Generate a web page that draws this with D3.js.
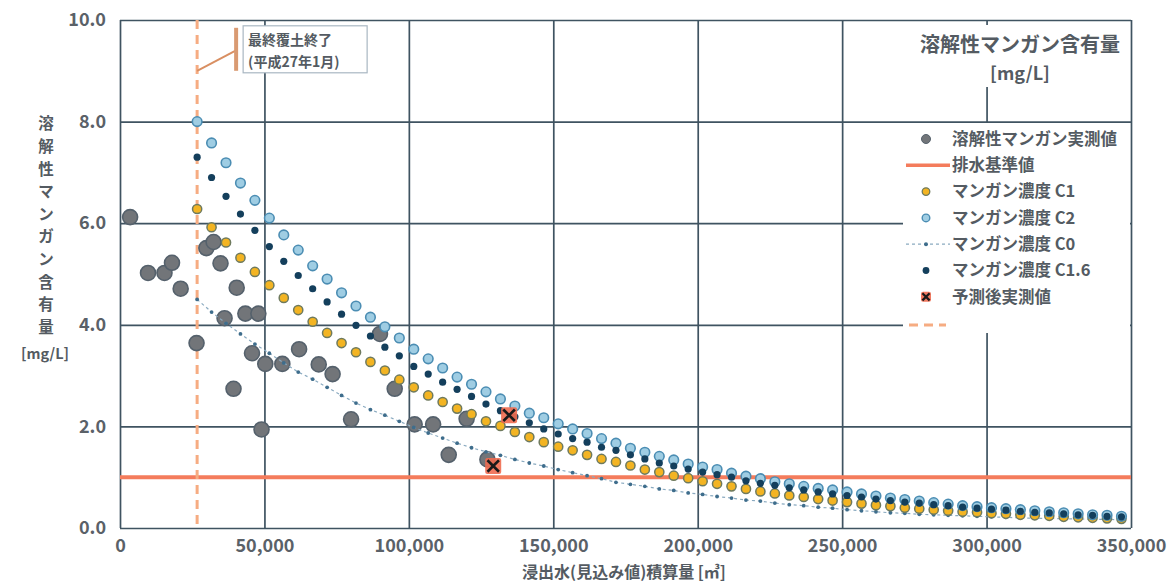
<!DOCTYPE html>
<html><head><meta charset="utf-8">
<script src="https://cdn.jsdelivr.net/npm/d3@7"></script>
<style>
body{margin:0;background:#fff;}
text{font-family:"Noto Sans CJK JP","Noto Sans",sans-serif;}
</style>
</head><body>
<svg id="c" width="1176" height="582"></svg>
<script>
// ---------------- data ----------------
const xTicks = [0, 50000, 100000, 150000, 200000, 250000, 300000, 350000];
const yTicks = [0, 2, 4, 6, 8, 10];
const standardValue = 1.0;          // 排水基準値
const coverEndX = 26700;            // 最終覆土終了
const annotationLines = ["最終覆土終了", "(平成27年1月)"];

const seriesX = [26700,31700,36700,41700,46700,51700,56700,61700,66700,71700,
  76700,81700,86700,91700,96700,101700,106700,111700,116700,121700,
  126700,131700,136700,141700,146700,151700,156700,161700,166700,171700,
  176700,181700,186700,191700,196700,201700,206700,211700,216700,221700,
  226700,231700,236700,241700,246700,251700,256700,261700,266700,271700,
  276700,281700,286700,291700,296700,301700,306700,311700,316700,321700,
  326700,331700,336700,341700,346700];

const c2 = [8.00,7.58,7.19,6.79,6.45,6.10,5.77,5.47,5.16,4.90,
  4.63,4.37,4.15,3.96,3.74,3.52,3.33,3.15,2.97,2.83,
  2.68,2.54,2.40,2.26,2.17,2.05,1.95,1.86,1.76,1.67,
  1.57,1.49,1.41,1.34,1.26,1.20,1.15,1.08,1.02,0.97,
  0.91,0.87,0.82,0.78,0.75,0.71,0.67,0.63,0.59,0.56,
  0.53,0.50,0.47,0.44,0.42,0.40,0.38,0.36,0.34,0.32,
  0.30,0.28,0.26,0.25,0.23];

const c16 = [7.30,6.90,6.53,6.18,5.86,5.54,5.25,4.97,4.71,4.45,
  4.21,3.99,3.78,3.56,3.39,3.18,3.03,2.87,2.73,2.59,
  2.44,2.31,2.19,2.07,1.95,1.85,1.76,1.69,1.59,1.53,
  1.44,1.36,1.28,1.22,1.16,1.10,1.05,1.00,0.93,0.88,
  0.84,0.79,0.75,0.71,0.67,0.64,0.61,0.57,0.54,0.51,
  0.49,0.46,0.44,0.41,0.39,0.37,0.35,0.33,0.31,0.30,
  0.28,0.26,0.25,0.23,0.22];

const c1 = [6.28,5.92,5.62,5.32,5.04,4.78,4.53,4.29,4.06,3.84,
  3.64,3.46,3.27,3.10,2.92,2.77,2.61,2.48,2.35,2.24,
  2.10,2.01,1.89,1.79,1.69,1.60,1.53,1.44,1.36,1.30,
  1.23,1.15,1.10,1.03,0.98,0.92,0.87,0.82,0.77,0.72,
  0.68,0.64,0.61,0.57,0.54,0.51,0.48,0.45,0.43,0.40,
  0.38,0.36,0.34,0.32,0.31,0.29,0.28,0.26,0.25,0.24,
  0.22,0.21,0.20,0.19,0.18];

const c0 = [4.50,4.25,4.03,3.82,3.62,3.44,3.25,3.07,2.93,2.77,
  2.61,2.46,2.33,2.22,2.10,1.98,1.87,1.77,1.67,1.58,
  1.50,1.43,1.35,1.28,1.22,1.15,1.09,1.03,0.97,0.90,
  0.86,0.82,0.77,0.74,0.69,0.66,0.62,0.59,0.55,0.53,
  0.49,0.46,0.44,0.41,0.39,0.36,0.34,0.32,0.30,0.29,
  0.27,0.26,0.25,0.24,0.23,0.22,0.21,0.20,0.19,0.19,
  0.18,0.18,0.17,0.17,0.16];

const measuredX = [3500,9700,15400,18000,21000,26500,29900,32400,34800,36200,
  40400,43400,47900,39300,45700,50300,49000,56200,62000,68800,
  73600,80000,90000,95100,102000,108400,113800,120000,127200];
const measuredY = [6.12,5.02,5.02,5.22,4.71,3.64,5.51,5.63,5.21,4.13,
  4.73,4.22,4.22,2.74,3.44,3.23,1.94,3.23,3.52,3.22,
  3.03,2.14,3.82,2.74,2.04,2.04,1.44,2.15,1.35];

const afterX = [134700, 129200];
const afterY = [2.22, 1.22];

const legendLabels = ["溶解性マンガン実測値","排水基準値","マンガン濃度 C1","マンガン濃度 C2","マンガン濃度 C0","マンガン濃度 C1.6","予測後実測値"];
const titleLines = ["溶解性マンガン含有量","[mg/L]"];
const yTitleChars = ["溶","解","性","マ","ン","ガ","ン","含","有","量"];
const yTitleUnit = "[mg/L]";
const xTitle = "浸出水(見込み値)積算量 [㎥]";

// ---------------- drawing ----------------
const svg = d3.select("#c");
const L = 120, T = 20, R = 1131, B = 528;
const x = d3.scaleLinear().domain([0, 350000]).range([L, R]);
const y = d3.scaleLinear().domain([0, 10]).range([B, T]);

const gridCol = "#3f5361", textCol = "#5a6168";

// gridlines
svg.append("g").attr("transform", `translate(0,${B})`)
  .call(d3.axisBottom(x).tickValues(xTicks).tickSize(-(B - T)).tickFormat(""))
  .call(g => g.select(".domain").remove())
  .call(g => g.selectAll("line").attr("stroke", gridCol).attr("stroke-width", 1.7));
svg.append("g").attr("transform", `translate(${L},0)`)
  .call(d3.axisLeft(y).tickValues(yTicks).tickSize(-(R - L)).tickFormat(""))
  .call(g => g.select(".domain").remove())
  .call(g => g.selectAll("line").attr("stroke", gridCol).attr("stroke-width", 1.7));

// tick labels
svg.append("g").attr("transform", `translate(0,${B})`)
  .call(d3.axisBottom(x).tickValues(xTicks).tickSize(0).tickPadding(11)
        .tickFormat(d => d3.format(",")(d)))
  .call(g => g.select(".domain").remove())
  .call(g => g.selectAll("text").attr("fill", textCol).attr("font-size", 18).attr("font-weight", "bold")
        .style("font-family", "'Noto Sans CJK JP', sans-serif"));
svg.append("g").attr("transform", `translate(${L},0)`)
  .call(d3.axisLeft(y).tickValues(yTicks).tickSize(0).tickPadding(14)
        .tickFormat(d => d.toFixed(1)))
  .call(g => g.select(".domain").remove())
  .call(g => g.selectAll("text").attr("fill", textCol).attr("font-size", 18).attr("font-weight", "bold")
        .style("font-family", "'Noto Sans CJK JP', sans-serif"));

// standard line
svg.append("line").attr("x1", x(0)).attr("x2", x(350000))
  .attr("y1", y(standardValue)).attr("y2", y(standardValue))
  .attr("stroke", "#f47c5c").attr("stroke-width", 4);

// cover-end vertical dashed line
svg.append("line").attr("x1", x(coverEndX)).attr("x2", x(coverEndX))
  .attr("y1", y(10)).attr("y2", y(0))
  .attr("stroke", "#f6ac82").attr("stroke-width", 3).attr("stroke-dasharray", "9,6");

// annotation
const ax = x(coverEndX), ay = y(9.0);
svg.append("line").attr("x1", ax).attr("y1", ay).attr("x2", ax + 38).attr("y2", ay - 20)
  .attr("stroke", "#d98f62").attr("stroke-width", 2);
svg.append("line").attr("x1", ax + 39).attr("x2", ax + 39).attr("y1", ay - 43).attr("y2", ay)
  .attr("stroke", "#d99a72").attr("stroke-width", 4);
svg.append("rect").attr("x", ax + 46).attr("y", ay - 45).attr("width", 124).attr("height", 47)
  .attr("fill", "#fff").attr("stroke", "#a9b7c2").attr("stroke-width", 1.2);
annotationLines.forEach((t, i) => {
  svg.append("text").attr("x", ax + 51).attr("y", ay - 26 + i * 22).text(t)
    .attr("font-size", 14).attr("font-weight", "bold").attr("fill", "#545b62");
});

// measured points
const gMeas = svg.append("g");
measuredX.forEach((mx, i) => {
  gMeas.append("circle").attr("cx", x(mx)).attr("cy", y(measuredY[i])).attr("r", 7.5)
    .attr("fill", "#727579").attr("stroke", "#55616c").attr("stroke-width", 1.6);
});

// C0 dotted line
const c0Line = d3.line().x((d, i) => x(seriesX[i])).y(d => y(d));
svg.append("path").datum(c0).attr("d", c0Line).attr("fill", "none")
  .attr("stroke", "#8aaac0").attr("stroke-width", 1.2).attr("stroke-dasharray", "3,3");
svg.append("g").selectAll("circle").data(c0).join("circle")
  .attr("cx", (d, i) => x(seriesX[i])).attr("cy", d => y(d)).attr("r", 1.9)
  .attr("fill", "#3e6d8c");

// C1
svg.append("g").selectAll("circle").data(c1).join("circle")
  .attr("cx", (d, i) => x(seriesX[i])).attr("cy", d => y(d)).attr("r", 4.6)
  .attr("fill", "#f3b422").attr("stroke", "#6e7a5e").attr("stroke-width", 1.5);
// C2
svg.append("g").selectAll("circle").data(c2).join("circle")
  .attr("cx", (d, i) => x(seriesX[i])).attr("cy", d => y(d)).attr("r", 4.8)
  .attr("fill", "#9fcde3").attr("stroke", "#4b8db3").attr("stroke-width", 1.6);
// C1.6
svg.append("g").selectAll("circle").data(c16).join("circle")
  .attr("cx", (d, i) => x(seriesX[i])).attr("cy", d => y(d)).attr("r", 3.6)
  .attr("fill", "#143f5c");

// after-prediction measured
function xMark(g, cx, cy, s) {
  g.append("rect").attr("x", cx - s).attr("y", cy - s).attr("width", 2 * s).attr("height", 2 * s)
    .attr("rx", 2).attr("fill", "#f06c50").attr("opacity", 0.9);
  const k = s * 0.72;
  g.append("path").attr("d", `M${cx - k},${cy - k}L${cx + k},${cy + k}M${cx - k},${cy + k}L${cx + k},${cy - k}`)
    .attr("stroke", "#1a1a1a").attr("stroke-width", s > 6 ? 2.6 : 2.2);
}
const gAfter = svg.append("g");
afterX.forEach((ax2, i) => xMark(gAfter, x(ax2), y(afterY[i]), 8));

// title block
svg.append("rect").attr("x", 915).attr("y", 25).attr("width", 210).attr("height", 62).attr("fill", "#fff");
titleLines.forEach((t, i) => {
  svg.append("text").attr("x", 1020).attr("y", 52 + i * 28).attr("text-anchor", "middle")
    .attr("font-size", i === 0 ? 20 : 18).attr("font-weight", "bold").attr("fill", "#545b62").text(t);
});

// legend
const lg = svg.append("g");
lg.append("rect").attr("x", 903).attr("y", 123).attr("width", 227).attr("height", 210).attr("fill", "#fff");
const lx = 926, tx = 952, ly0 = 139, dy = 26.3;
legendLabels.forEach((t, i) => {
  const yy = ly0 + i * dy;
  lg.append("text").attr("x", tx).attr("y", yy).attr("dy", "0.35em").attr("font-size", 16.5)
    .attr("font-weight", "bold").attr("fill", "#545b62").text(t);
});
lg.append("circle").attr("cx", lx).attr("cy", ly0).attr("r", 4.5).attr("fill", "#727579").attr("stroke", "#55616c");
lg.append("line").attr("x1", 906).attr("x2", 950).attr("y1", ly0 + dy).attr("y2", ly0 + dy)
  .attr("stroke", "#f47c5c").attr("stroke-width", 3.5);
lg.append("circle").attr("cx", lx).attr("cy", ly0 + 2 * dy).attr("r", 3.8).attr("fill", "#f3b422").attr("stroke", "#6e7a5e").attr("stroke-width", 1.3);
lg.append("circle").attr("cx", lx).attr("cy", ly0 + 3 * dy).attr("r", 3.8).attr("fill", "#9fcde3").attr("stroke", "#4b8db3").attr("stroke-width", 1.4);
lg.append("line").attr("x1", 906).attr("x2", 950).attr("y1", ly0 + 4 * dy).attr("y2", ly0 + 4 * dy)
  .attr("stroke", "#8aaac0").attr("stroke-width", 1.2).attr("stroke-dasharray", "3,3");
lg.append("circle").attr("cx", lx).attr("cy", ly0 + 4 * dy).attr("r", 2).attr("fill", "#3e6d8c");
lg.append("circle").attr("cx", lx).attr("cy", ly0 + 5 * dy).attr("r", 3.4).attr("fill", "#143f5c");
xMark(lg, lx, ly0 + 6 * dy, 5);
lg.append("line").attr("x1", 909).attr("x2", 946).attr("y1", 325).attr("y2", 325)
  .attr("stroke", "#f6ac82").attr("stroke-width", 3).attr("stroke-dasharray", "9,6");

// y title (vertical)
yTitleChars.forEach((c, i) => {
  svg.append("text").attr("x", 46).attr("y", 124 + i * 22.6).attr("dy", "0.35em")
    .attr("text-anchor", "middle").attr("font-size", 15.5).attr("font-weight", "bold")
    .attr("fill", "#545b62").text(c);
});
svg.append("text").attr("x", 45).attr("y", 354).attr("dy", "0.35em").attr("text-anchor", "middle")
  .attr("font-size", 14.5).attr("font-weight", "bold").attr("fill", "#545b62").text(yTitleUnit);

// x title
svg.append("text").attr("x", 624).attr("y", 572).attr("dy", "0.35em").attr("text-anchor", "middle")
  .attr("font-size", 16).attr("font-weight", "bold").attr("fill", "#545b62").text(xTitle);
</script>
</body></html>
